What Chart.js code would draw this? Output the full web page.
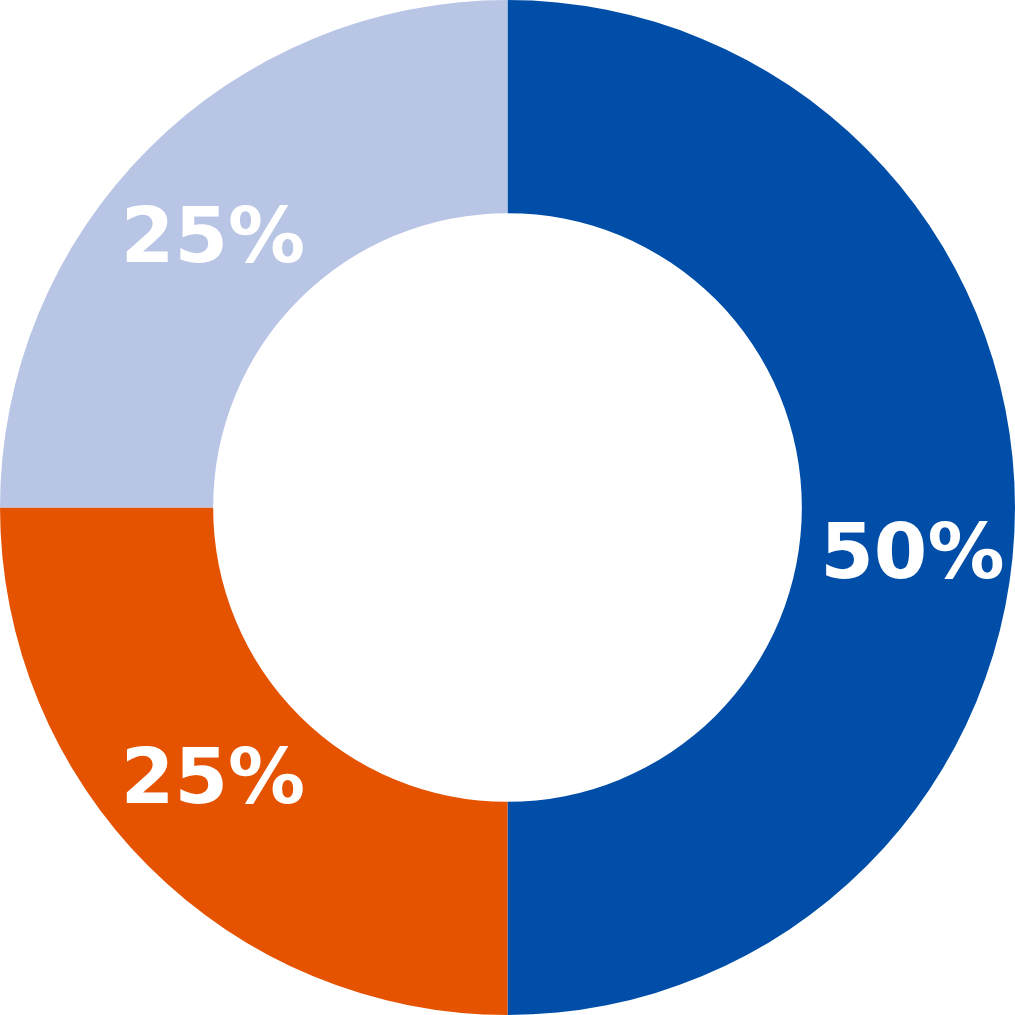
<!DOCTYPE html>
<html>
<head>
<meta charset="utf-8">
<script src="https://cdn.jsdelivr.net/npm/chart.js@4/dist/chart.umd.min.js"></script>
<style>
html,body{margin:0;padding:0;background:#fff;}
#c{display:block;}
</style>
</head>
<body>
<canvas id="c" width="1015" height="1015"></canvas>
<script>
const categories = ["A", "B", "C"];
const values = [50, 25, 25];
const valueLabels = ["50%", "25%", "25%"];
const colors = ["#004EA8", "#E55300", "#B9C5E5"];

const labelPlugin = {
  id: 'sliceLabels',
  afterDatasetsDraw(chart, args, opts) {
    const ctx = chart.ctx;
    const meta = chart.getDatasetMeta(0);
    ctx.save();
    ctx.font = opts.font;
    ctx.fillStyle = opts.color;
    ctx.textAlign = 'center';
    ctx.textBaseline = 'middle';
    meta.data.forEach((arc, i) => {
      const p = arc.tooltipPosition();
      const off = opts.offsets[i] || [0, 0];
      ctx.fillText(valueLabels[i], p.x + off[0], p.y + off[1]);
    });
    ctx.restore();
  }
};

new Chart(document.getElementById('c'), {
  type: 'doughnut',
  data: {
    labels: categories,
    datasets: [{
      data: values,
      backgroundColor: colors,
      borderWidth: 0,
      hoverOffset: 0
    }]
  },
  options: {
    responsive: false,
    animation: false,
    cutout: '58%',
    layout: { padding: 0 },
    plugins: {
      legend: { display: false },
      tooltip: { enabled: false },
      sliceLabels: {
        font: 'bold 77px "DejaVu Sans"',
        color: '#ffffff',
        offsets: [[4, 50], [-11, -8], [-11, 18]]
      }
    }
  },
  plugins: [labelPlugin]
});
</script>
</body>
</html>
